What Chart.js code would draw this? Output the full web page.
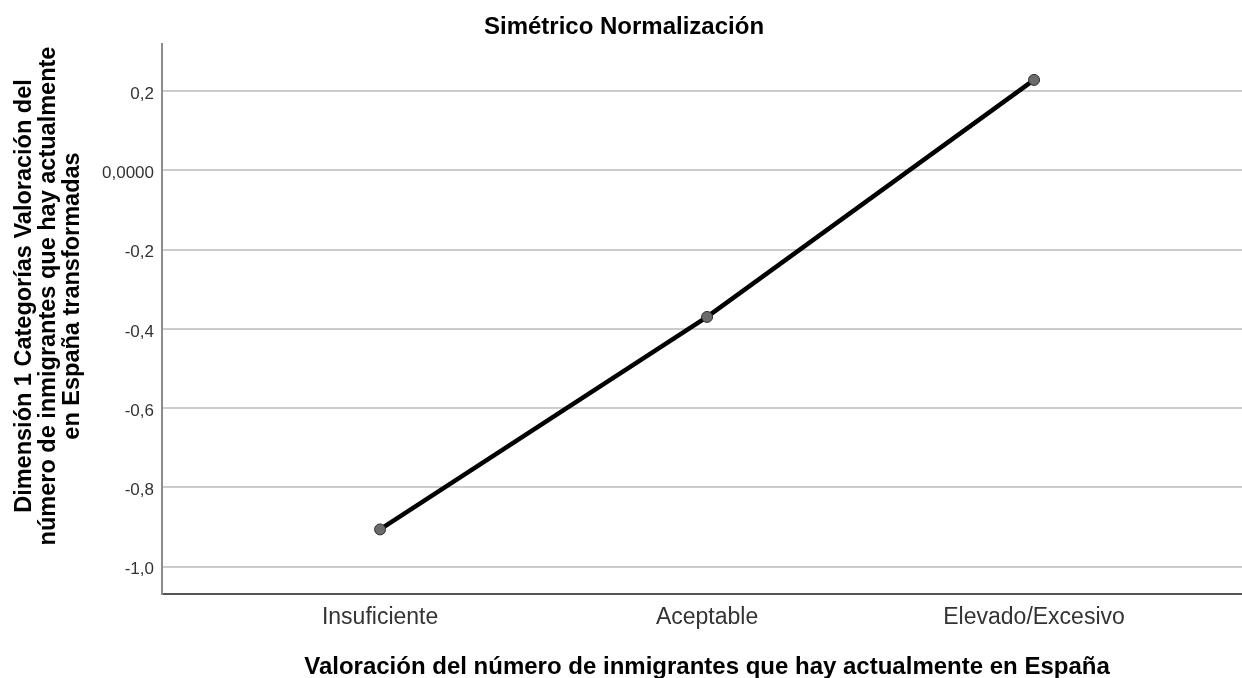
<!DOCTYPE html>
<html lang="es">
<head>
    <meta charset="UTF-8">
    <title>Simétrico Normalización</title>
    <script src="https://cdn.jsdelivr.net/npm/chart.js"></script>
    <style>
        body {
            margin: 0;
            background: #ffffff;
            font-family: "Liberation Sans", Arial, sans-serif;
        }
        .wrap {
            position: relative;
            width: 1242px;
            height: 678px;
        }
    </style>
</head>
<body>
    <div class="wrap">
        <canvas id="chart"></canvas>
    </div>

    <script>
        // categories and values
        const categories = ["Insuficiente", "Aceptable", "Elevado/Excesivo"];
        const dimension1 = [-0.906, -0.370, 0.228];
        const yTickValues = [0.2, 0, -0.2, -0.4, -0.6, -0.8, -1.0];
        const yTickLabels = ["0,2", "0,0000", "-0,2", "-0,4", "-0,6", "-0,8", "-1,0"];

        const chartTitle = "Simétrico Normalización";
        const xTitle = "Valoración del número de inmigrantes que hay actualmente en España";
        const yTitle = [
            "Dimensión 1 Categorías Valoración del",
            "número de inmigrantes que hay actualmente",
            "en España transformadas"
        ];

        const FONT = '"Liberation Sans", Arial, sans-serif';

        // titles are placed like the SPSS output, not centred on the canvas area
        const titlesPlugin = {
            id: "titles",
            afterDraw(chart) {
                const c = chart.ctx;
                c.save();
                c.fillStyle = "#000";
                c.textAlign = "center";
                c.textBaseline = "alphabetic";

                c.font = "bold 24px " + FONT;
                c.fillText(chartTitle, 624, 34);

                c.font = "bold 24px " + FONT;
                c.fillText(xTitle, 707, 674);

                c.font = "bold 23.5px " + FONT;
                c.translate(0, 296);
                c.rotate(-Math.PI / 2);
                yTitle.forEach((line, i) => {
                    c.fillText(line, 0, 31 + i * 24);
                });
                c.restore();
            }
        };

        const ctx = document.getElementById("chart").getContext("2d");
        new Chart(ctx, {
            type: "line",
            data: {
                datasets: [{
                    data: dimension1.map((v, i) => ({ x: i, y: v })),
                    borderColor: "#000",
                    borderWidth: 4.5,
                    pointRadius: 5.5,
                    pointBackgroundColor: "#6b6b6b",
                    pointBorderColor: "#2e2e2e",
                    pointBorderWidth: 1,
                    tension: 0
                }]
            },
            options: {
                responsive: true,
                maintainAspectRatio: false,
                animation: false,
                layout: { autoPadding: false, padding: { top: 44, left: 0, right: 0, bottom: 0 } },
                plugins: {
                    legend: { display: false },
                    tooltip: { enabled: false }
                },
                scales: {
                    x: {
                        type: "linear",
                        min: -0.667,
                        max: 2.636,
                        afterBuildTicks: (s) => { s.ticks = categories.map((_, i) => ({ value: i })); },
                        afterFit: (s) => { s.height = 84; },
                        grid: { display: false, drawTicks: false },
                        border: { color: "#555", width: 2 },
                        ticks: {
                            autoSkip: false,
                            maxRotation: 0,
                            padding: 10,
                            color: "#333",
                            font: { family: FONT, size: 23 },
                            callback: (v) => categories[v]
                        }
                    },
                    y: {
                        min: -1.069,
                        max: 0.3186,
                        afterBuildTicks: (s) => { s.ticks = yTickValues.map(v => ({ value: v })); },
                        afterFit: (s) => { s.width = 162; },
                        grid: { color: "#cccccc", lineWidth: 2, drawTicks: false },
                        border: { color: "#8c8c8c", width: 2 },
                        ticks: {
                            padding: 8,
                            labelOffset: 3,
                            color: "#333",
                            font: { family: FONT, size: 17 },
                            callback: (v) => yTickLabels[yTickValues.indexOf(v)]
                        }
                    }
                }
            },
            plugins: [titlesPlugin]
        });
    </script>
</body>
</html>
